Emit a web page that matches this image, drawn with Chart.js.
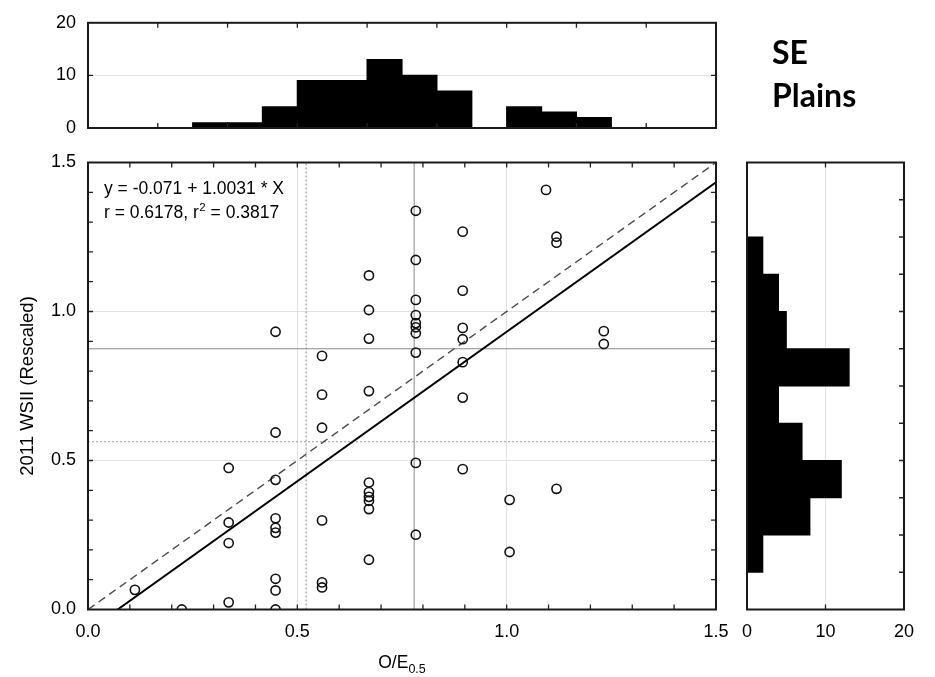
<!DOCTYPE html>
<html>
<head>
<meta charset="utf-8">
<script src="https://cdn.jsdelivr.net/npm/chart.js@4.4.1/dist/chart.umd.min.js"></script>
<style>
  html, body { margin: 0; padding: 0; background: #fff; }
  #wrap { position: relative; width: 935px; height: 677px; }
  canvas { position: absolute; left: 0; top: 0; }
</style>
</head>
<body>
<div id="wrap">
  <canvas id="topHist" width="935" height="677"></canvas>
  <canvas id="mainPlot" width="935" height="677"></canvas>
  <canvas id="rightHist" width="935" height="677"></canvas>
</div>
<script>
// scatter points, O/E0.5 (x) against 2011 WSII rescaled (y)
const oeValues = [
  0.112,
  0.224,
  0.336, 0.336, 0.336, 0.336,
  0.448, 0.448, 0.448, 0.448, 0.448, 0.448, 0.448, 0.448, 0.448,
  0.559, 0.559, 0.559, 0.559, 0.559, 0.559,
  0.671, 0.671, 0.671, 0.671, 0.671, 0.671, 0.671, 0.671, 0.671, 0.671,
  0.783, 0.783, 0.783, 0.783, 0.783, 0.783, 0.783, 0.783, 0.783, 0.783,
  0.895, 0.895, 0.895, 0.895, 0.895, 0.895, 0.895,
  1.007, 1.007,
  1.094,
  1.119, 1.119, 1.119,
  1.232, 1.232
];
const wsiiValues = [
  0.066,
  0.000,
  0.475, 0.292, 0.223, 0.024,
  0.932, 0.594, 0.435, 0.306, 0.274, 0.258, 0.103, 0.064, 0.000,
  0.851, 0.721, 0.610, 0.299, 0.091, 0.074,
  1.121, 1.005, 0.909, 0.733, 0.426, 0.394, 0.378, 0.365, 0.337, 0.167,
  1.338, 1.173, 1.039, 0.988, 0.961, 0.947, 0.927, 0.862, 0.492, 0.251,
  1.268, 1.070, 0.945, 0.907, 0.830, 0.711, 0.471,
  0.368, 0.193,
  1.408,
  1.251, 1.231, 0.405,
  0.934, 0.891
];

// fitted line printed on the plot
const fitIntercept = -0.071;
const fitSlope = 1.0031;
const fitR = '0.6178';
const fitR2 = '0.3817';

// reference lines
const oeDottedLine = 0.521;
const oeSolidLine = 0.779;
const wsiiSolidLine = 0.875;
const wsiiDottedLine = 0.563;

// top histogram of O/E0.5 (bin middles, counts)
const topBinMid = [0.2917, 0.375, 0.4583, 0.5417, 0.625, 0.7083, 0.7917, 0.875, 0.9583, 1.0417, 1.125, 1.2083];
const topCounts = [1, 1, 4, 9, 9, 13, 10, 7, 0, 4, 3, 2];

// right histogram of WSII (bin middles, counts)
const rightBinMid = [0.1875, 0.3125, 0.4375, 0.5625, 0.6875, 0.8125, 0.9375, 1.0625, 1.1875];
const rightCounts = [2, 8, 12, 7, 4, 13, 5, 4, 2];

const mainTickLabels = ['0.0', '0.5', '1.0', '1.5'];
const countTickLabels = ['0', '10', '20'];

Chart.defaults.font.family = "'Liberation Sans', Arial, sans-serif";
Chart.defaults.font.size = 18;
Chart.defaults.color = '#000';

const GRID = '#e2e2e2';
const clear = 'rgba(0,0,0,0)';
const near = (a, b) => Math.abs(a - b) < 1e-6;

// frame + inward tick marks (the library only draws outward ones)
function frameTicks(spec) {
  return {
    id: 'frameTicks',
    afterDatasetsDraw(chart) {
      const { ctx, chartArea: a, scales } = chart;
      const len = 5;
      ctx.save();
      ctx.strokeStyle = '#222';
      ctx.lineWidth = 1.3;
      ctx.beginPath();
      (spec.x || []).forEach(v => {
        const p = scales.x.getPixelForValue(v);
        ctx.moveTo(p, a.bottom); ctx.lineTo(p, a.bottom - len);
        ctx.moveTo(p, a.top); ctx.lineTo(p, a.top + len);
      });
      (spec.y || []).forEach(v => {
        const p = scales.y.getPixelForValue(v);
        if (spec.yLeft !== false) { ctx.moveTo(a.left, p); ctx.lineTo(a.left + len, p); }
        ctx.moveTo(a.right, p); ctx.lineTo(a.right - len, p);
      });
      ctx.stroke();
      ctx.lineWidth = 2;
      ctx.strokeStyle = '#1a1a1a';
      ctx.strokeRect(a.left, a.top, a.right - a.left, a.bottom - a.top);
      ctx.restore();
    }
  };
}

const tenths = [];
for (let i = 1; i < 15; i++) tenths.push(i / 10);
const sixths = [];
for (let i = 1; i < 9; i++) sixths.push(i / 6);
const eighths = [];
for (let i = 1; i < 12; i++) eighths.push(i / 8);

// ---------- top histogram
new Chart(document.getElementById('topHist'), {
  type: 'bar',
  data: {
    datasets: [{
      data: topBinMid.map((m, i) => ({ x: m, y: topCounts[i] })),
      backgroundColor: '#000',
      borderWidth: 0,
      inflateAmount: 0.6,
      barPercentage: 1,
      categoryPercentage: 1
    }]
  },
  options: {
    responsive: false, animation: false, devicePixelRatio: 1,
    layout: { padding: { left: 0, top: 16, right: 219, bottom: 549 } },
    plugins: { legend: { display: false }, tooltip: { enabled: false } },
    scales: {
      x: { type: 'linear', min: 0, max: 1.5, offset: false, display: false, ticks: { stepSize: 0.25 } },
      y: {
        min: 0, max: 20,
        ticks: { stepSize: 10, padding: 12, callback: (v) => countTickLabels[v / 10] },
        grid: { drawTicks: false, color: (c) => near(c.tick.value, 10) ? GRID : clear },
        border: { display: false },
        afterFit: (s) => { s.width = 88; }
      }
    }
  },
  plugins: [frameTicks({ x: sixths, y: [10] })]
});

// ---------- main scatter
const fitLine = [
  { x: -fitIntercept / fitSlope, y: 0 },
  { x: 1.5, y: fitIntercept + fitSlope * 1.5 }
];

function refLine(pts, color, dash, width) {
  return {
    type: 'line', data: pts, borderColor: color, borderWidth: width || 1,
    borderDash: dash || [], pointRadius: 0, showLine: true, fill: false
  };
}

const annotations = {
  id: 'annotations',
  afterDraw(chart) {
    const ctx = chart.ctx;
    const font = (s) => s + "px 'Liberation Sans', Arial, sans-serif";
    ctx.save();
    ctx.fillStyle = '#000';
    ctx.textBaseline = 'alphabetic';
    ctx.textAlign = 'left';

    // fit equation
    ctx.font = font(17.5);
    ctx.fillText('y = ' + fitIntercept.toFixed(3) + ' + ' + fitSlope.toFixed(4) + ' * X', 104, 194);
    let x = 104;
    const part = 'r = ' + fitR + ', r';
    ctx.fillText(part, x, 218);
    x += ctx.measureText(part).width;
    ctx.font = font(11.5);
    ctx.fillText('2', x + 0.5, 211);
    x += ctx.measureText('2').width + 0.5;
    ctx.font = font(17.5);
    ctx.fillText(' = ' + fitR2, x, 218);

    // x axis title O/E0.5
    ctx.font = font(17.5);
    const main = 'O/E';
    const w1 = ctx.measureText(main).width;
    ctx.font = font(12.5);
    const w2 = ctx.measureText('0.5').width;
    const sx = 402 - (w1 + w2) / 2;
    ctx.font = font(17.5);
    ctx.fillText(main, sx, 668);
    ctx.font = font(12.5);
    ctx.fillText('0.5', sx + w1, 673);

    // panel title
    ctx.font = "bold 32px Lato, 'Open Sans', sans-serif";
    ctx.fillText('SE', 772, 64);
    ctx.fillText('Plains', 772, 107);
    ctx.restore();
  }
};

new Chart(document.getElementById('mainPlot'), {
  type: 'scatter',
  data: {
    datasets: [
      {
        data: oeValues.map((v, i) => ({ x: v, y: wsiiValues[i] })),
        pointRadius: 4.6,
        pointBorderWidth: 1.6,
        borderColor: '#111',
        backgroundColor: clear,
        clip: 0
      },
      refLine(fitLine, '#000', [], 2),
      refLine([{ x: 0, y: 0 }, { x: 1.5, y: 1.5 }], '#4a4a4a', [8, 5], 1.4),
      refLine([{ x: oeDottedLine, y: 0 }, { x: oeDottedLine, y: 1.5 }], '#8a8a8a', [2, 2]),
      refLine([{ x: oeSolidLine, y: 0 }, { x: oeSolidLine, y: 1.5 }], '#8a8a8a'),
      refLine([{ x: 0, y: wsiiSolidLine }, { x: 1.5, y: wsiiSolidLine }], '#8a8a8a'),
      refLine([{ x: 0, y: wsiiDottedLine }, { x: 1.5, y: wsiiDottedLine }], '#9a9a9a', [2, 2])
    ]
  },
  options: {
    responsive: false, animation: false, devicePixelRatio: 1,
    layout: { padding: { left: 0, top: 162.5, right: 219, bottom: 0 } },
    plugins: { legend: { display: false }, tooltip: { enabled: false } },
    scales: {
      x: {
        type: 'linear', min: 0, max: 1.5,
        ticks: {
          stepSize: 0.1, padding: 12, autoSkip: false, maxRotation: 0,
          callback: (v) => near(v * 2, Math.round(v * 2)) ? mainTickLabels[Math.round(v * 2)] : ''
        },
        grid: { drawTicks: false, color: (c) => (near(c.tick.value, 0.5) || near(c.tick.value, 1)) ? GRID : clear },
        border: { display: false },
        afterFit: (s) => { s.height = 67.5; }
      },
      y: {
        type: 'linear', min: 0, max: 1.5,
        ticks: {
          stepSize: 0.1, padding: 12, autoSkip: false,
          callback: (v) => near(v * 2, Math.round(v * 2)) ? mainTickLabels[Math.round(v * 2)] : ''
        },
        grid: { drawTicks: false, color: (c) => (near(c.tick.value, 0.5) || near(c.tick.value, 1)) ? GRID : clear },
        border: { display: false },
        title: { display: true, text: '2011 WSII (Rescaled)', font: { size: 18.5 }, padding: { top: 17, bottom: 0 } },
        afterFit: (s) => { s.width = 88; }
      }
    }
  },
  plugins: [frameTicks({ x: tenths, y: tenths }), annotations]
});

// ---------- right histogram
new Chart(document.getElementById('rightHist'), {
  type: 'bar',
  data: {
    datasets: [{
      data: rightBinMid.map((m, i) => ({ x: rightCounts[i], y: m })),
      backgroundColor: '#000',
      borderWidth: 0,
      inflateAmount: 0.6,
      barPercentage: 1,
      categoryPercentage: 1
    }]
  },
  options: {
    indexAxis: 'y',
    responsive: false, animation: false, devicePixelRatio: 1,
    layout: { padding: { left: 747, top: 162.5, right: 31, bottom: 0 } },
    plugins: { legend: { display: false }, tooltip: { enabled: false } },
    scales: {
      // wide tick step so bar thickness follows the bin spacing
      y: { type: 'linear', min: 0, max: 1.5, offset: false, display: false, ticks: { stepSize: 0.25 } },
      x: {
        type: 'linear', min: 0, max: 20,
        ticks: { stepSize: 10, padding: 12, maxRotation: 0, callback: (v) => countTickLabels[v / 10] },
        grid: { drawTicks: false, color: (c) => near(c.tick.value, 10) ? GRID : clear },
        border: { display: false },
        afterFit: (s) => { s.height = 67.5; }
      }
    }
  },
  plugins: [frameTicks({ x: [10], y: eighths, yLeft: false })]
});
</script>
</body>
</html>
